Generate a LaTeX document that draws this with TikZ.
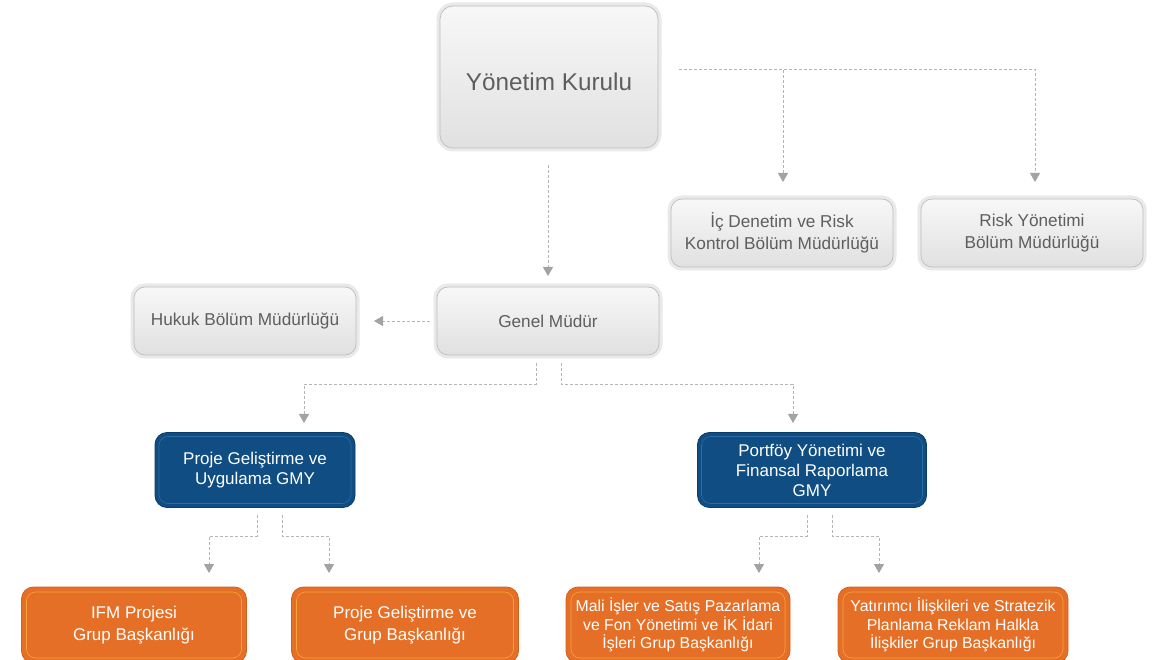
\documentclass[tikz,border=0pt]{standalone}
\usepackage{fontspec}
\setmainfont{Liberation Sans}
\usetikzlibrary{arrows.meta}
\definecolor{grtxt}{HTML}{5E5E5E}
\definecolor{grbd}{HTML}{BDBDBD}
\definecolor{grhalo}{HTML}{E9E9E9}
\definecolor{blfill}{HTML}{0F4D82}
\definecolor{blin}{HTML}{2C6CA6}
\definecolor{blbd}{HTML}{0A3C68}
\definecolor{orfill}{HTML}{E66F27}
\definecolor{orin}{HTML}{F4A43A}
\definecolor{orbd}{HTML}{D2601D}
\definecolor{cn}{HTML}{B5B5B5}
\tikzset{
  graybox/.style={rounded corners=11pt, draw=grbd, line width=0.7pt,
    top color=white!97!black, bottom color=white!88!black,
    preaction={draw=grhalo, line width=7pt},
    text=grtxt, font=\fontsize{17.2}{22}\selectfont, align=center,
    minimum width=222pt, minimum height=68pt, inner sep=0pt},
  bluebox/.style={rounded corners=12pt, draw=blbd, line width=0.8pt, fill=blfill,
    text=white, font=\fontsize{17}{20}\selectfont, align=center,
    minimum height=75pt, inner sep=0pt,
    path picture={\draw[blin, line width=0.6pt, rounded corners=9pt]
      ([shift={(4pt,4pt)}]path picture bounding box.south west) rectangle
      ([shift={(-4pt,-4pt)}]path picture bounding box.north east);}},
  orbox/.style={rounded corners=12pt, draw=orbd, line width=0.8pt, fill=orfill,
    text=white, font=\fontsize{17}{22}\selectfont, align=center,
    minimum height=76pt, inner sep=0pt,
    path picture={\draw[orin, line width=0.6pt, rounded corners=9pt]
      ([shift={(5pt,5pt)}]path picture bounding box.south west) rectangle
      ([shift={(-5pt,-5pt)}]path picture bounding box.north east);}},
  orsmall/.style={font=\fontsize{15.8}{18.5}\selectfont},
  conn/.style={draw=cn, dash pattern=on 3pt off 2pt, line width=0.8pt,
    -{Triangle[width=10pt,length=9pt,color=cn!90!black]}},
}
\begin{document}
\begin{tikzpicture}[x=1pt,y=-1pt]
\useasboundingbox[fill=white] (0,0) rectangle (1171,660);
% nodes
\node[graybox, minimum width=218pt, minimum height=142pt,
  font=\fontsize{24.3}{28}\selectfont, rounded corners=13pt] (yk) at (549,77) {\raisebox{-14pt}[0pt][0pt]{Yönetim Kurulu}};
\node[graybox] (ic) at (782,233) {İç Denetim ve Risk\\Kontrol Bölüm Müdürlüğü};
\node[graybox] (rsk) at (1032,233) {Risk Yönetimi\\Bölüm Müdürlüğü};
\node[graybox] (huk) at (245,321) {Hukuk Bölüm Müdürlüğü};
\node[graybox] (gm) at (548,321) {Genel Müdür};
\node[bluebox, minimum width=200pt] (pg) at (255,470) {Proje Geliştirme ve\\Uygulama GMY};
\node[bluebox, minimum width=229pt] (pf) at (812,470) {Portföy Yönetimi ve\\Finansal Raporlama\\GMY};
\node[orbox, minimum width=225pt] (ifm) at (134,625) {IFM Projesi\\Grup Başkanlığı};
\node[orbox, minimum width=227pt] (pgg) at (405,625) {Proje Geliştirme ve\\Grup Başkanlığı};
\node[orbox, orsmall, minimum width=224pt] (mali) at (678,625) {Mali İşler ve Satış Pazarlama\\ve Fon Yönetimi ve İK İdari\\İşleri Grup Başkanlığı};
\node[orbox, orsmall, minimum width=230pt] (yat) at (953,625) {Yatırımcı İlişkileri ve Stratezik\\Planlama Reklam Halkla\\İlişkiler Grup Başkanlığı};
% free-end coordinates
\coordinate (tic) at (783,182);
\coordinate (trs) at (1035,182);
\coordinate (tgm) at (548,276);
\coordinate (thk) at (374,321);
\coordinate (tpg) at (304,423);
\coordinate (tpf) at (793,423);
\coordinate (tifm) at (209,573);
\coordinate (tpgg) at (329,573);
\coordinate (tmali) at (759,573);
\coordinate (tyat) at (879,573);
% connectors
\draw[conn] ([shift={(21pt,8pt)}]yk.east) -- (783,69) -- (tic);
\draw[conn] ([shift={(21pt,8pt)}]yk.east) -- (1035,69) -- (trs);
\draw[conn] ([shift={(-1pt,-17pt)}]yk.south) -- (tgm);
\draw[conn] ([xshift=-7pt]gm.west) -- (thk);
\draw[conn] ([shift={(-12pt,-8pt)}]gm.south) -- (536,384) -- (304,384) -- (tpg);
\draw[conn] ([shift={(13pt,-8pt)}]gm.south) -- (561,384) -- (793,384) -- (tpf);
\draw[conn] ([shift={(2pt,-7pt)}]pg.south) -- (257,536) -- (209,536) -- (tifm);
\draw[conn] ([shift={(27pt,-7pt)}]pg.south) -- (282,536) -- (329,536) -- (tpgg);
\draw[conn] ([shift={(-5pt,-7pt)}]pf.south) -- (807,536) -- (759,536) -- (tmali);
\draw[conn] ([shift={(20pt,-7pt)}]pf.south) -- (832,536) -- (879,536) -- (tyat);
\end{tikzpicture}
\end{document}
